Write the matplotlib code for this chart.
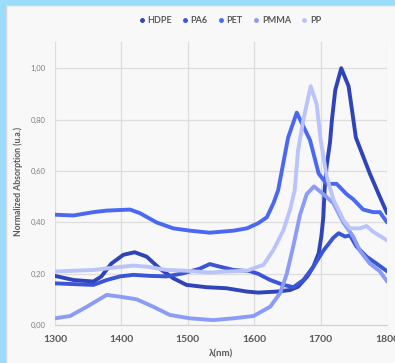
import matplotlib.pyplot as plt
from matplotlib.patches import Rectangle

# wavelengths (nm) and normalized absorption
hdpe_x = [1300, 1328, 1358, 1370, 1385, 1403, 1420, 1438, 1458, 1478, 1498, 1528, 1558, 1589, 1606, 1634,
          1654, 1666, 1680, 1689, 1697, 1701, 1704, 1706, 1709, 1714, 1717, 1722, 1731, 1742, 1747, 1753,
          1774, 1789, 1800]
hdpe_y = [0.192, 0.176, 0.170, 0.190, 0.240, 0.274, 0.284, 0.267, 0.220, 0.183, 0.157, 0.148, 0.144, 0.131,
          0.127, 0.131, 0.137, 0.150, 0.190, 0.228, 0.280, 0.345, 0.420, 0.530, 0.620, 0.710, 0.800, 0.915,
          1.000, 0.930, 0.840, 0.730, 0.590, 0.500, 0.436]

pa6_x = [1300, 1328, 1358, 1378, 1398, 1418, 1443, 1468, 1493, 1518, 1533, 1548, 1569, 1594, 1606, 1624,
         1644, 1659, 1674, 1689, 1704, 1719, 1727, 1737, 1744, 1754, 1769, 1784, 1800]
pa6_y = [0.163, 0.160, 0.157, 0.176, 0.190, 0.196, 0.192, 0.190, 0.202, 0.220, 0.238, 0.228, 0.215, 0.210,
         0.200, 0.176, 0.157, 0.148, 0.176, 0.228, 0.290, 0.340, 0.358, 0.345, 0.350, 0.306, 0.267, 0.240,
         0.210]

pet_x = [1300, 1328, 1358, 1378, 1413, 1428, 1453, 1478, 1503, 1533, 1569, 1589, 1606, 1619, 1629, 1636,
         1651, 1664, 1684, 1697, 1709, 1724, 1739, 1749, 1764, 1779, 1789, 1800]
pet_y = [0.430, 0.427, 0.440, 0.446, 0.450, 0.436, 0.400, 0.377, 0.368, 0.360, 0.368, 0.377, 0.397, 0.420,
         0.475, 0.525, 0.730, 0.827, 0.720, 0.590, 0.550, 0.550, 0.510, 0.490, 0.450, 0.440, 0.440, 0.400]

pmma_x = [1300, 1323, 1348, 1378, 1398, 1423, 1448, 1473, 1503, 1538, 1569, 1599, 1624, 1639, 1649, 1659,
          1669, 1679, 1690, 1704, 1719, 1734, 1749, 1759, 1774, 1789, 1800]
pmma_y = [0.027, 0.036, 0.072, 0.118, 0.111, 0.101, 0.072, 0.040, 0.027, 0.020, 0.027, 0.036, 0.072, 0.125,
          0.200, 0.310, 0.430, 0.510, 0.540, 0.510, 0.475, 0.400, 0.345, 0.290, 0.240, 0.210, 0.170]

pp_x = [1300, 1328, 1358, 1388, 1418, 1438, 1468, 1498, 1533, 1558, 1589, 1606, 1614, 1629, 1644, 1654,
        1661, 1666, 1674, 1685, 1694, 1700, 1709, 1719, 1734, 1744, 1759, 1769, 1779, 1800]
pp_y = [0.209, 0.212, 0.215, 0.224, 0.232, 0.228, 0.215, 0.212, 0.205, 0.209, 0.212, 0.228, 0.235, 0.293,
        0.370, 0.450, 0.527, 0.680, 0.800, 0.930, 0.860, 0.720, 0.580, 0.490, 0.410, 0.377, 0.377, 0.386,
        0.364, 0.330]

names = ['HDPE', 'PA6', 'PET', 'PMMA', 'PP']
colors = ['#2F44B8', '#3A55D6', '#4A68F2', '#8B9CF6', '#BAC4FA']
xticks = [1300, 1400, 1500, 1600, 1700, 1800]
yticks = [0.0, 0.2, 0.4, 0.6, 0.8, 1.0]

plt.rcParams['font.family'] = ['Lato', 'DejaVu Sans']

fig = plt.figure(figsize=(3.95, 3.63), dpi=100, facecolor='#F8F8F8')
# light blue frame around the chart box
fig.patches.append(Rectangle((0, 0.986), 1, 0.014, transform=fig.transFigure, color='#9BDCFB', zorder=0))
fig.patches.append(Rectangle((0, 0), 0.016, 1, transform=fig.transFigure, color='#9BDCFB', zorder=0))
fig.patches.append(Rectangle((0.016, -0.01), 1.0, 0.996, transform=fig.transFigure, fill=False,
                             ec='#D6D6D6', lw=0.8, zorder=0))

ax = fig.add_axes([0.139, 0.104, 0.841, 0.779])
ax.set_facecolor('none')

series = [(hdpe_x, hdpe_y), (pa6_x, pa6_y), (pet_x, pet_y), (pmma_x, pmma_y), (pp_x, pp_y)]
for (xs, ys), name, c in zip(series, names, colors):
    ax.plot(xs, ys, color=c, lw=2.8, solid_capstyle='round', solid_joinstyle='round', label=name)

ax.set_xlim(1300, 1800)
ax.set_ylim(0, 1.1)
ax.set_xticks(xticks)
ax.set_yticks(yticks)
ax.set_yticklabels([f'{v:.2f}'.replace('.', ',') for v in yticks])
ax.grid(True, color='#DDDDDD', lw=0.9)
ax.set_axisbelow(True)
for s in ['top', 'right', 'left']:
    ax.spines[s].set_visible(False)
ax.spines['bottom'].set_color('#D0D0D0')
ax.tick_params(length=0)
ax.tick_params(axis='x', labelsize=7.5, labelcolor='#595959', pad=7)
ax.tick_params(axis='y', labelsize=5.5, labelcolor='#808080', pad=7)
for lab in ax.get_xticklabels():
    lab.set_fontweight('bold')

ax.set_xlabel('λ(nm)', fontsize=7, fontweight='bold', color='#595959', labelpad=4)
ax.set_ylabel('Normalized Absorption (u.a.)', fontsize=6.2, fontweight='bold', color='#595959')
ax.yaxis.set_label_coords(-0.095, 0.51)

handles = [plt.Line2D([], [], ls='', marker='o', ms=2.5, color=c) for c in colors]
fig.legend(handles, names, loc='center', bbox_to_anchor=(0.58, 0.943), ncol=5, frameon=False,
           handletextpad=0.1, columnspacing=1.0, handlelength=1.0,
           prop={'weight': 'bold', 'size': 6.5})
for t in fig.legends[0].get_texts():
    t.set_color('#595959')

fig.savefig('out.png', dpi=100, facecolor=fig.get_facecolor())
